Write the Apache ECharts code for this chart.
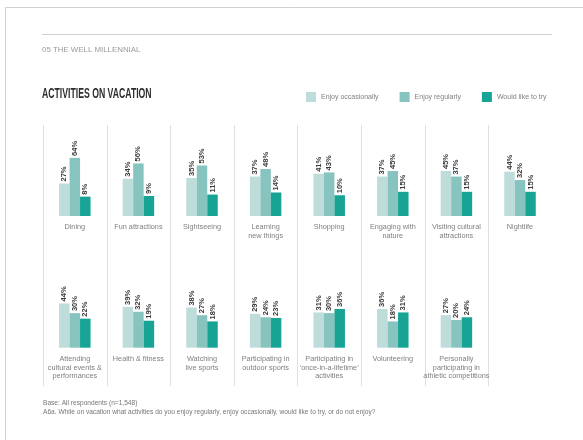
<!DOCTYPE html>
<html>
<head>
<meta charset="utf-8">
<script src="https://cdn.jsdelivr.net/npm/echarts@6/dist/echarts.min.js"></script>
<style>
html,body{margin:0;padding:0;background:#fff;}
#chart{width:583px;height:440px;}
</style>
</head>
<body>
<div id="chart"></div>
<script>
// ---- data ----
const categories = [
  'Dining', 'Fun attractions', 'Sightseeing', 'Learning\nnew things', 'Shopping',
  'Engaging with\nnature', 'Visiting cultural\nattractions', 'Nightlife',
  'Attending\ncultural events &\nperformances', 'Health & fitness', 'Watching\nlive sports',
  'Participating in\noutdoor sports', 'Participating in\n\u2018once-in-a-lifetime\u2019\nactivities',
  'Volunteering', 'Personally\nparticipating in\nathletic competitions'
];
const enjoyOccasionally = [27, 34, 35, 37, 41, 37, 45, 44, 44, 39, 38, 29, 31, 36, 27];
const enjoyRegularly    = [64, 56, 53, 48, 43, 45, 37, 32, 30, 32, 27, 24, 30, 18, 20];
const wouldLikeToTry    = [ 8,  9, 11, 14, 10, 15, 15, 15, 22, 19, 18, 23, 36, 31, 24];
const seriesNames = ['Enjoy occasionally', 'Enjoy regularly', 'Would like to try'];
const titleText = 'ACTIVITIES ON VACATION';
const headerText = '05 THE WELL MILLENNIAL';
const footerLines = [
  'Base: All respondents (n=1,548)',
  'A6a. While on vacation what activities do you enjoy regularly, enjoy occasionally, would like to try, or do not enjoy?'
];

// ---- styles / layout ----
const seriesValues = [enjoyOccasionally, enjoyRegularly, wouldLikeToTry];
const colors = ['#bddcda', '#88c4bf', '#17a495'];
const FONT = '"Liberation Sans", Arial, Helvetica, sans-serif';
const perRow = 8;
const panelLeft = 43, panelW = 63.6;
const rowTop = [133, 264.7];
const gridH = 83;

const grids = [], xAxes = [], yAxes = [], series = [];
categories.forEach((cat, i) => {
  const row = i < perRow ? 0 : 1;
  const col = i - row * perRow;
  grids.push({ left: panelLeft + col * panelW, top: rowTop[row], width: panelW, height: gridH, containLabel: false });
  xAxes.push({
    gridIndex: i, type: 'category', data: [cat],
    axisLine: { show: false }, axisTick: { show: false }, splitLine: { show: false },
    axisLabel: { interval: 0, color: '#808080', fontSize: 7.3, lineHeight: 8.6, margin: 7, fontFamily: FONT }
  });
  yAxes.push({ gridIndex: i, type: 'value', min: -20, max: 100, startValue: -20, show: false, splitLine: { show: false } });
  seriesValues.forEach((vals, s) => {
    series.push({
      type: 'bar', name: seriesNames[s], xAxisIndex: i, yAxisIndex: i,
      data: [vals[i]], barWidth: 10.5, barGap: '0%',
      itemStyle: { color: colors[s] },
      label: {
        show: true, position: 'top', rotate: 90, align: 'left', verticalAlign: 'middle',
        distance: 2, formatter: '{c}%', fontSize: 7.5, fontWeight: 'bold', color: '#3a3a3a', fontFamily: FONT
      }
    });
  });
});

const graphics = [
  { type: 'line', shape: { x1: 5.5, y1: 7.5, x2: 583, y2: 7.5 }, style: { stroke: '#d0d0d0', lineWidth: 1 } },
  { type: 'line', shape: { x1: 5.5, y1: 7.5, x2: 5.5, y2: 440 }, style: { stroke: '#d0d0d0', lineWidth: 1 } },
  { type: 'line', shape: { x1: 42, y1: 34.5, x2: 552, y2: 34.5 }, style: { stroke: '#cfcfcf', lineWidth: 1 } },
  { type: 'text', x: 42, y: 50, scaleX: 1.25, style: { text: headerText, font: '6.3px ' + FONT, fill: '#9a9a9a', textVerticalAlign: 'middle' } },
  { type: 'text', x: 42, y: 94, scaleX: 0.62, style: { text: titleText, font: 'bold 14px ' + FONT, fill: '#2e2e2e', textVerticalAlign: 'middle' } },
  { type: 'text', x: 43, y: 403, style: { text: footerLines[0], font: '6.6px ' + FONT, fill: '#777', textVerticalAlign: 'middle' } },
  { type: 'text', x: 43, y: 412, style: { text: footerLines[1], font: '6.6px ' + FONT, fill: '#777', textVerticalAlign: 'middle' } }
];
for (let k = 0; k <= perRow - 1; k++) {
  const x = Math.round(panelLeft + k * panelW) + 0.5;
  graphics.push({ type: 'line', shape: { x1: x, y1: 125, x2: x, y2: 386 }, style: { stroke: '#e0e0e0', lineWidth: 1 } });
}

const chart = echarts.init(document.getElementById('chart'), null, { renderer: 'canvas' });
chart.setOption({
  animation: false,
  backgroundColor: '#fff',
  textStyle: { fontFamily: FONT },
  legend: {
    left: 301, top: 87, itemWidth: 10, itemHeight: 10, itemGap: 21, icon: 'rect',
    textStyle: { fontSize: 7, color: '#808080', fontFamily: FONT },
    data: seriesNames
  },
  grid: grids, xAxis: xAxes, yAxis: yAxes, series: series,
  graphic: graphics
});
</script>
</body>
</html>
